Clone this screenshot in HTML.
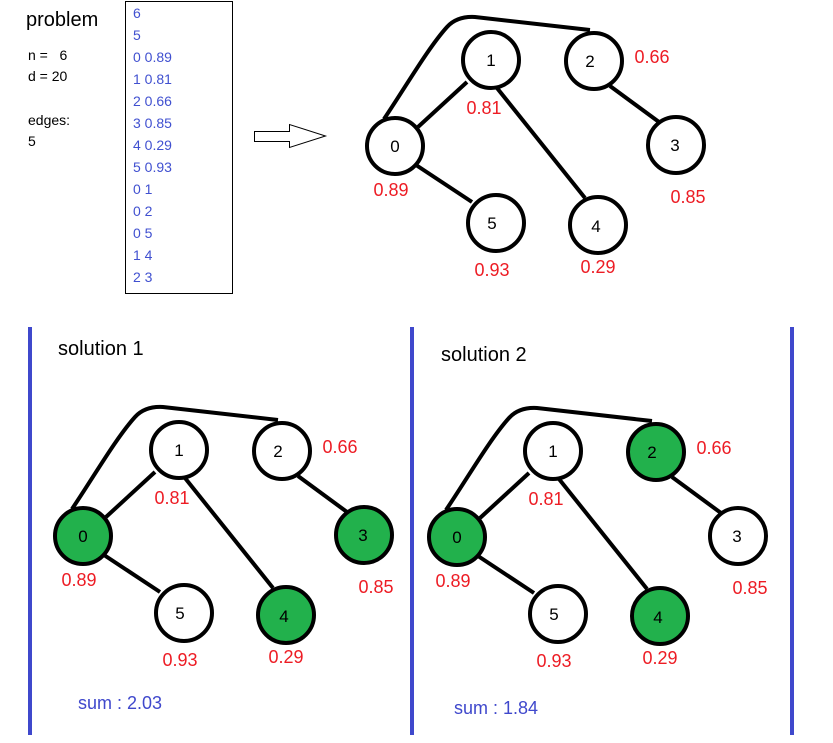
<!DOCTYPE html>
<html><head><style>body{margin:0;background:#fff}svg{display:block}</style></head><body>
<svg width="833" height="743" viewBox="0 0 833 743" xmlns="http://www.w3.org/2000/svg" font-family="Liberation Sans, sans-serif">
<defs>
<g id="edges" fill="none" stroke="#000" stroke-width="4">
<path d="M384,119 C405,88 428,48 447,27 Q457,16 475,17 L590,30"/>
<line x1="418" y1="127" x2="467" y2="82"/>
<line x1="416" y1="165" x2="472" y2="202"/>
<line x1="497" y1="88" x2="585" y2="198"/>
<line x1="610" y1="86" x2="659" y2="122"/>
</g>
</defs>
<text x="26" y="26" font-size="20">problem</text>
<g font-size="14"><text x="28" y="60">n =&#160;&#160;&#160;6</text><text x="28" y="81">d = 20</text><text x="28" y="125">edges:</text><text x="28" y="146">5</text></g>
<rect x="125.5" y="1.5" width="107" height="292" fill="none" stroke="#000" stroke-width="1"/>
<g font-size="14" fill="#4050d0">
<text x="133" y="18">6</text><text x="133" y="40">5</text><text x="133" y="62">0 0.89</text><text x="133" y="84">1 0.81</text><text x="133" y="106">2 0.66</text><text x="133" y="128">3 0.85</text><text x="133" y="150">4 0.29</text><text x="133" y="172">5 0.93</text><text x="133" y="194">0 1</text><text x="133" y="216">0 2</text><text x="133" y="238">0 5</text><text x="133" y="260">1 4</text><text x="133" y="282">2 3</text>
</g>
<polygon points="254.5,131.5 289.5,131.5 289.5,124.5 325.5,136 289.5,147.5 289.5,141.5 254.5,141.5" fill="#fff" stroke="#000" stroke-width="1"/>

<g>
<use href="#edges"/>
<g stroke="#000" stroke-width="4" fill="#fff">
<circle cx="395" cy="146" r="28"/><circle cx="491" cy="60" r="28"/><circle cx="594" cy="61" r="28"/><circle cx="676" cy="145" r="28"/><circle cx="496" cy="223" r="28"/><circle cx="598" cy="225" r="28"/>
</g>
<g font-size="17" text-anchor="middle"><text x="395" y="152">0</text><text x="491" y="66">1</text><text x="590" y="67">2</text><text x="675" y="151">3</text><text x="492" y="229">5</text><text x="596" y="232">4</text></g>
<g font-size="18" fill="#ed1c24" text-anchor="middle"><text x="484" y="114">0.81</text><text x="652" y="63">0.66</text><text x="391" y="196">0.89</text><text x="688" y="203">0.85</text><text x="492" y="276">0.93</text><text x="598" y="273">0.29</text></g>
</g>

<g fill="#3f48cc"><rect x="28" y="327" width="4" height="408"/><rect x="410" y="327" width="4" height="408"/><rect x="790" y="327" width="4" height="408"/></g>
<text x="58" y="355" font-size="20">solution 1</text>
<text x="441" y="361" font-size="20">solution 2</text>
<text x="78" y="709" font-size="18" fill="#3f48cc">sum : 2.03</text>
<text x="454" y="714" font-size="18" fill="#3f48cc">sum : 1.84</text>

<g transform="translate(-312,390)">
<use href="#edges"/>
<g stroke="#000" stroke-width="4" fill="#fff">
<circle cx="395" cy="146" r="28" fill="#22b14c"/><circle cx="491" cy="60" r="28"/><circle cx="594" cy="61" r="28"/><circle cx="676" cy="145" r="28" fill="#22b14c"/><circle cx="496" cy="223" r="28"/><circle cx="598" cy="225" r="28" fill="#22b14c"/>
</g>
<g font-size="17" text-anchor="middle"><text x="395" y="152">0</text><text x="491" y="66">1</text><text x="590" y="67">2</text><text x="675" y="151">3</text><text x="492" y="229">5</text><text x="596" y="232">4</text></g>
<g font-size="18" fill="#ed1c24" text-anchor="middle"><text x="484" y="114">0.81</text><text x="652" y="63">0.66</text><text x="391" y="196">0.89</text><text x="688" y="203">0.85</text><text x="492" y="276">0.93</text><text x="598" y="273">0.29</text></g>
</g>

<g transform="translate(62,391)">
<use href="#edges"/>
<g stroke="#000" stroke-width="4" fill="#fff">
<circle cx="395" cy="146" r="28" fill="#22b14c"/><circle cx="491" cy="60" r="28"/><circle cx="594" cy="61" r="28" fill="#22b14c"/><circle cx="676" cy="145" r="28"/><circle cx="496" cy="223" r="28"/><circle cx="598" cy="225" r="28" fill="#22b14c"/>
</g>
<g font-size="17" text-anchor="middle"><text x="395" y="152">0</text><text x="491" y="66">1</text><text x="590" y="67">2</text><text x="675" y="151">3</text><text x="492" y="229">5</text><text x="596" y="232">4</text></g>
<g font-size="18" fill="#ed1c24" text-anchor="middle"><text x="484" y="114">0.81</text><text x="652" y="63">0.66</text><text x="391" y="196">0.89</text><text x="688" y="203">0.85</text><text x="492" y="276">0.93</text><text x="598" y="273">0.29</text></g>
</g>
</svg>
</body></html>
